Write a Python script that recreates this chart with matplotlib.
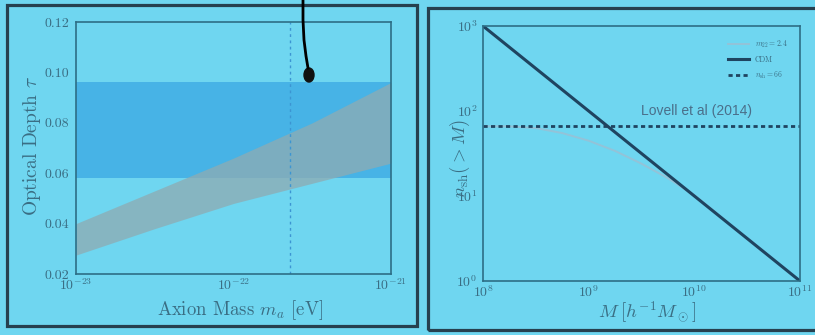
import numpy as np
import matplotlib.pyplot as plt
from matplotlib.patches import Rectangle, Ellipse
from matplotlib.lines import Line2D

plt.rcParams['font.family'] = 'cmr10'
plt.rcParams['mathtext.fontset'] = 'cm'
plt.rcParams['axes.formatter.use_mathtext'] = True

bg = '#6fd6f0'
band_blue = '#47b3e6'
band_grey = '#8eabb2'
spine_col = '#2d6e86'
text_col = '#3a6e84'
line_dark = '#1f4460'
line_light = '#93c3d8'

# optical depth vs axion mass
m_axion = [1e-23, 10**-22.5, 1e-22, 10**-21.5, 1e-21]
tau_hi = [0.040, 0.053, 0.066, 0.080, 0.096]
tau_lo = [0.0275, 0.038, 0.048, 0.056, 0.064]
planck_lo, planck_hi = 0.058, 0.096
m_mark = 2.3e-22

# subhalo counts
mass_cdm = [1e8, 1e11]
n_cdm = [1000, 1]
mass_fdm = [1e8, 10**8.25, 10**8.5, 10**8.75, 1e9, 10**9.25, 10**9.5,
            10**9.75, 1e10, 10**10.5, 1e11]
n_fdm = [66, 66, 63, 55, 44.7, 33.9, 24, 16.2, 10.2, 3.16, 1.0]
n_sh = 66

fig = plt.figure(figsize=(8.15, 3.35), dpi=100)
fig.patch.set_facecolor(bg)

W, H = 815, 335


def fig_rect(x0, y0, x1, y1):
    return [x0 / W, 1 - y1 / H, (x1 - x0) / W, (y1 - y0) / H]


# panel frames
for x0, y0, x1, y1 in [(7, 5, 417, 326), (428, 8, 830, 330)]:
    r = Rectangle((x0 / W, 1 - y1 / H), (x1 - x0) / W, (y1 - y0) / H,
                  transform=fig.transFigure, fill=False,
                  edgecolor='#26404f', lw=2.3)
    fig.add_artist(r)

ax1 = fig.add_axes(fig_rect(76, 22, 391, 274))
ax2 = fig.add_axes(fig_rect(483, 26, 800, 281))

for ax in (ax1, ax2):
    ax.set_facecolor(bg)
    for s in ax.spines.values():
        s.set_color(spine_col)
        s.set_linewidth(1.2)
    ax.tick_params(which='both', direction='in', length=0, colors=text_col,
                   labelsize=10)

# left panel
ax1.set_xscale('log')
ax1.set_xlim(1e-23, 1e-21)
ax1.set_ylim(0.02, 0.12)
ax1.axhspan(planck_lo, planck_hi, color=band_blue, lw=0)
ax1.fill_between(m_axion, tau_lo, tau_hi, color=band_grey, alpha=0.75, lw=0)
ax1.axvline(m_mark, color='#3c95d2', lw=1, ls=(0, (2, 2.5)))
ax1.set_yticks([0.02, 0.04, 0.06, 0.08, 0.10, 0.12])
ax1.set_yticklabels(['0.02', '0.04', '0.06', '0.08', '0.10', '0.12'])
ax1.set_xticks([1e-23, 1e-22, 1e-21])
ax1.minorticks_off()
ax1.tick_params(axis='y', pad=5)
ax1.tick_params(axis='x', pad=2)
ax1.set_ylabel(r'Optical Depth $\tau$', color=text_col, fontsize=14)
ax1.yaxis.set_label_coords(-0.105, 0.51)
ax1.set_xlabel(r'Axion Mass $m_a$ [eV]', color=text_col, fontsize=13.5)
ax1.xaxis.set_label_coords(0.52, -0.095)

# right panel
ax2.set_xscale('log')
ax2.set_yscale('log')
ax2.set_xlim(1e8, 1e11)
ax2.set_ylim(1, 1000)
ax2.plot(mass_fdm, n_fdm, color=line_light, lw=1.4, label=r'$m_{22}=2.4$')
ax2.plot(mass_cdm, n_cdm, color=line_dark, lw=2.2, label='CDM')
ax2.axhline(n_sh, color=line_dark, lw=2, ls=(0, (1.5, 1.2)),
            label=r'$n_{\rm sh}=66$')
ax2.set_xticks([1e8, 1e9, 1e10, 1e11])
ax2.set_yticks([1, 10, 100, 1000])
ax2.minorticks_off()
ax2.tick_params(axis='y', pad=4)
ax2.tick_params(axis='x', pad=2)
ax2.text(0.675, 0.665, 'Lovell et al (2014)', transform=ax2.transAxes,
         ha='center', va='center', fontsize=10, color='#4a6f8a',
         family='Liberation Sans')
leg = ax2.legend(loc='upper right', frameon=False, fontsize=5.5,
                 handlelength=2.8, labelspacing=0.8, borderaxespad=1.2)
for t in leg.get_texts():
    t.set_color(text_col)
ax2.set_ylabel(r'$n_{\rm sh}(>M)$', color=text_col, fontsize=13.5)
ax2.yaxis.set_label_coords(-0.035, 0.48)
ax2.set_xlabel(r'$M\;[h^{-1}M_\odot]$', color=text_col, fontsize=13.5)
ax2.xaxis.set_label_coords(0.517, -0.07)

# pointer cable hanging over the slide
cx = np.array([303, 303, 304, 306, 308])
cy = np.array([0, 20, 40, 56, 68])
fig.add_artist(Line2D(cx / W, 1 - cy / H, transform=fig.transFigure,
                      color='black', lw=2))
fig.add_artist(Ellipse((309 / W, 1 - 75 / H), 10 / W, 14 / H,
                       transform=fig.transFigure, color='#111111'))

fig.savefig('out.png', dpi=100, facecolor=bg)
